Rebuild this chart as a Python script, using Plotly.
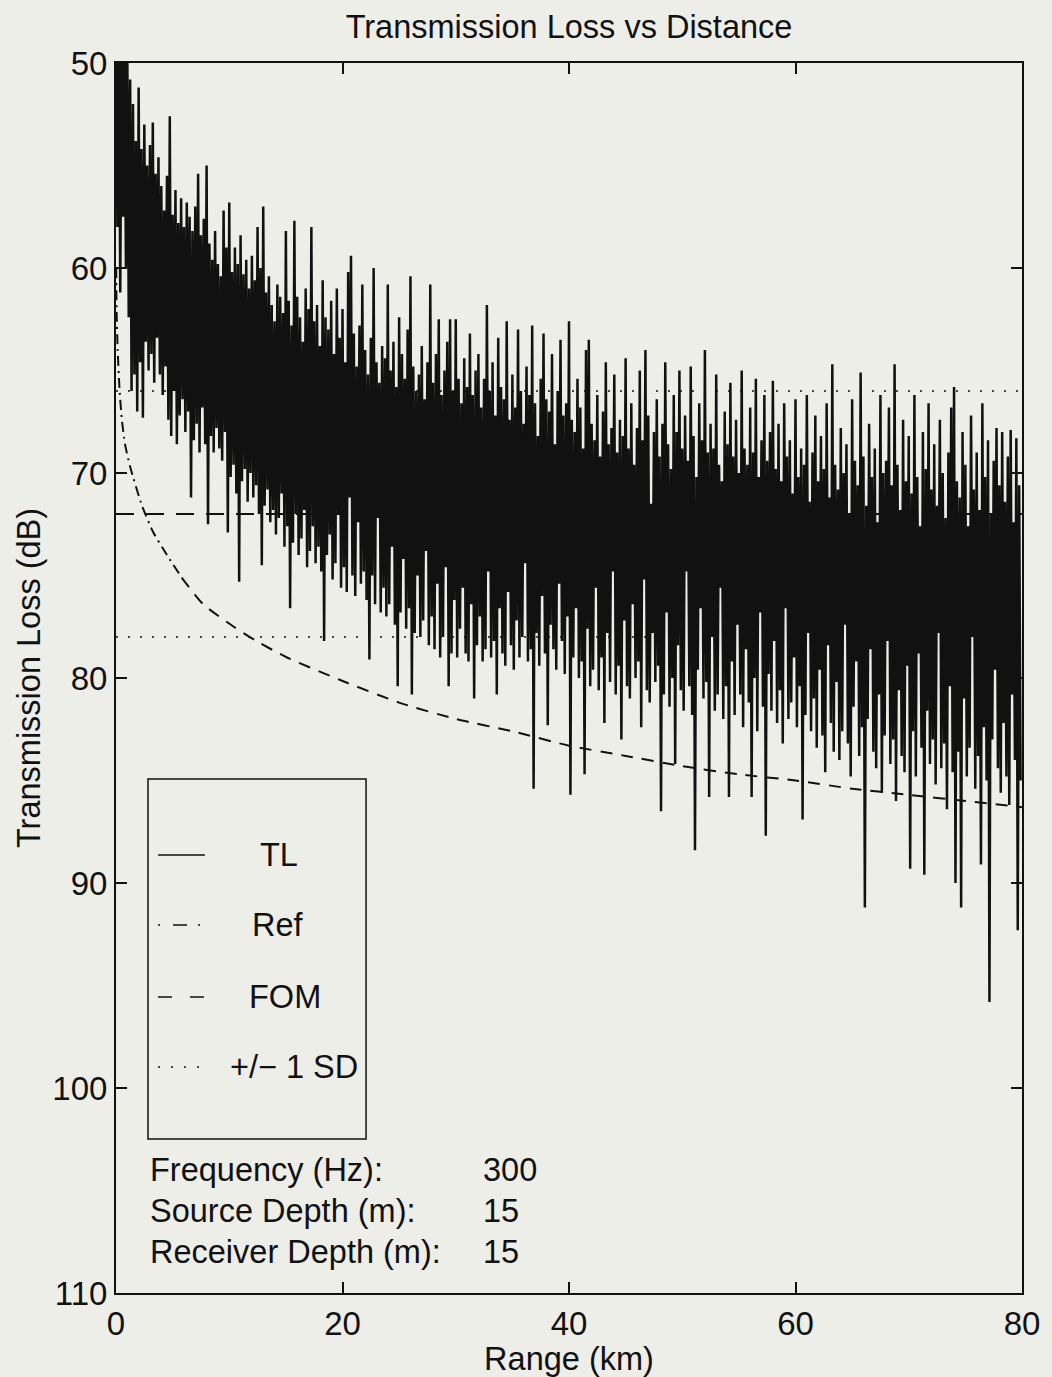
import plotly.graph_objects as go

FONT = "Liberation Sans, Arial, Helvetica, sans-serif"
INK = "#111111"
PAPER = "#eeeee9"

# ---- data ------------------------------------------------------------------
RANGE_STEP_KM = 0.25  # one crest + one trough per step

# upper edge of the TL trace (crests, dB), 4 per km, rows of 2 km
tl_crest_db = [
    48.0, 47.5, 48.5, 47.8, 49.5, 50.8, 52.0, 53.8,   # 0-2
    51.2, 54.2, 53.0, 55.0, 54.0, 52.9, 55.4, 54.6,   # 2-4
    56.0, 57.2, 55.5, 52.6, 57.4, 56.2, 57.8, 56.6,   # 4-6
    58.0, 56.8, 57.5, 58.2, 57.0, 55.4, 58.4, 57.6,   # 6-8
    55.0, 58.8, 59.6, 58.2, 59.8, 60.4, 57.2, 59.0,   # 8-10
    56.8, 60.2, 59.0, 59.8, 58.4, 60.3, 59.6, 61.0,   # 10-12
    59.4, 60.6, 58.0, 60.0, 57.0, 61.2, 60.4, 61.8,   # 12-14
    62.6, 60.8, 61.4, 62.2, 58.2, 61.6, 62.8, 57.7,   # 14-16
    61.4, 62.4, 63.6, 61.0, 62.0, 58.0, 62.6, 61.8,   # 16-18
    63.8, 60.6, 62.4, 63.0, 61.6, 64.2, 61.0, 63.4,   # 18-20
    62.0, 64.6, 60.2, 59.4, 63.2, 64.8, 62.8, 60.8,   # 20-22
    64.0, 65.2, 63.4, 60.0, 64.6, 65.6, 63.8, 64.4,   # 22-24
    60.8, 65.0, 63.6, 65.8, 62.4, 64.2, 65.4, 63.0,   # 24-26
    60.4, 64.8, 66.0, 65.2, 63.8, 66.4, 64.6, 60.8,   # 26-28
    65.6, 64.2, 62.5, 66.2, 65.0, 63.6, 62.5, 66.0,   # 28-30
    62.5, 65.4, 66.6, 64.4, 65.8, 63.2, 66.2, 65.0,   # 30-32
    64.2, 66.8, 65.4, 61.8, 66.0, 64.6, 67.2, 63.4,   # 32-34
    65.8, 66.4, 62.6, 67.4, 65.2, 66.8, 63.0, 66.0,   # 34-36
    67.6, 64.8, 66.2, 62.8, 66.6, 68.2, 65.4, 63.2,   # 36-38
    66.4, 67.0, 64.2, 68.6, 66.0, 63.5, 67.2, 66.6,   # 38-40
    62.6, 67.4, 68.0, 65.4, 66.8, 68.8, 64.0, 63.5,   # 40-42
    67.6, 68.4, 66.2, 69.2, 67.0, 64.6, 68.6, 67.8,   # 42-44
    65.2, 69.0, 67.4, 68.2, 64.4, 68.8, 66.6, 69.6,   # 44-46
    67.8, 65.0, 68.4, 64.0, 67.2, 71.5, 68.0, 66.4,   # 46-48
    69.2, 67.6, 64.6, 68.6, 69.8, 66.2, 68.0, 65.0,   # 48-50
    68.8, 67.2, 69.4, 64.8, 68.2, 70.2, 66.6, 68.4,   # 50-52
    64.0, 69.0, 67.6, 68.8, 65.2, 69.6, 70.4, 67.0,   # 52-54
    68.6, 65.6, 69.2, 67.4, 70.0, 65.0, 68.8, 69.6,   # 54-56
    66.8, 69.0, 65.4, 70.2, 68.4, 66.2, 69.4, 68.0,   # 56-58
    65.5, 69.8, 67.6, 70.4, 66.6, 69.2, 68.4, 71.0,   # 58-60
    66.4, 70.2, 68.8, 69.6, 66.2, 71.4, 69.0, 67.2,   # 60-62
    70.4, 68.2, 69.8, 66.6, 71.2, 64.7, 69.6, 70.8,   # 62-64
    67.8, 70.0, 68.6, 72.0, 66.4, 69.4, 70.6, 65.1,   # 64-66
    69.2, 71.6, 67.6, 70.2, 68.8, 72.4, 66.2, 70.0,   # 66-68
    69.4, 66.8, 70.6, 64.7, 69.6, 71.8, 67.4, 70.4,   # 68-70
    68.2, 71.0, 66.2, 70.2, 72.6, 68.0, 69.8, 66.6,   # 70-72
    70.8, 68.6, 71.6, 67.4, 70.0, 72.2, 69.0, 66.8,   # 72-74
    65.8, 70.4, 71.2, 68.0, 69.6, 72.6, 67.2, 70.8,   # 74-76
    69.0, 71.8, 66.6, 70.2, 68.4, 72.0, 69.4, 67.8,   # 76-78
    70.6, 68.0, 71.4, 69.2, 67.9, 72.4, 68.3, 70.6,   # 78-80
]

# lower edge of the TL trace (troughs, dB), half a step after each crest
tl_trough_db = [
    58.0, 61.2, 57.5, 60.0, 62.4, 66.0, 65.2, 67.0,   # 0-2
    64.6, 67.3, 63.6, 65.0, 64.2, 65.6, 63.4, 65.2,   # 2-4
    66.2, 64.8, 67.4, 68.2, 66.0, 68.6, 67.2, 66.4,   # 4-6
    68.0, 67.0, 71.2, 68.4, 67.6, 69.0, 66.8, 68.6,   # 6-8
    72.5, 68.2, 69.0, 67.8, 68.8, 69.4, 68.0, 72.9,   # 8-10
    70.2, 69.6, 71.0, 75.3, 70.4, 69.8, 71.4, 70.0,   # 10-12
    71.2, 70.6, 72.0, 74.5, 71.6, 70.8, 72.4, 71.8,   # 12-14
    73.0, 72.2, 71.0, 73.6, 72.6, 76.6, 73.4, 72.0,   # 14-16
    74.0, 73.2, 71.8, 74.6, 73.8, 72.6, 74.4, 73.6,   # 16-18
    74.8, 78.2, 74.0, 73.0, 75.2, 74.4, 72.0, 75.6,   # 18-20
    74.6, 75.8, 71.2, 75.0, 76.0, 72.4, 75.4, 74.8,   # 20-22
    76.2, 79.1, 75.0, 76.4, 72.2, 76.8, 75.6, 77.0,   # 22-24
    76.4, 73.6, 77.4, 80.4, 76.8, 74.2, 77.6, 76.6,   # 24-26
    80.8, 77.8, 75.0, 78.0, 77.2, 73.8, 78.4, 77.0,   # 26-28
    78.6, 75.4, 79.0, 78.0, 74.6, 80.4, 78.8, 76.2,   # 28-30
    79.0, 77.6, 75.6, 78.8, 79.2, 76.4, 81.0, 78.4,   # 30-32
    77.0, 79.2, 78.6, 74.8, 79.0, 78.2, 80.8, 76.6,   # 32-34
    78.8, 79.4, 75.8, 78.4, 79.6, 77.2, 79.0, 78.0,   # 34-36
    74.4, 79.2, 78.6, 85.4, 77.8, 79.4, 76.0, 78.8,   # 36-38
    82.3, 77.4, 78.6, 79.6, 75.4, 78.2, 79.8, 77.0,   # 38-40
    85.7, 79.0, 76.6, 80.0, 79.2, 84.7, 77.6, 80.4,   # 40-42
    79.6, 75.6, 80.6, 79.0, 82.2, 77.8, 80.2, 74.8,   # 42-44
    80.8, 79.4, 83.0, 77.2, 80.4, 81.0, 76.4, 80.0,   # 44-46
    79.2, 82.4, 75.2, 80.6, 81.2, 77.8, 80.2, 79.4,   # 46-48
    86.5, 80.8, 76.8, 81.4, 80.0, 84.2, 78.4, 80.6,   # 48-50
    81.6, 74.8, 80.4, 81.8, 88.4, 79.6, 76.6, 81.0,   # 50-52
    80.2, 85.8, 78.0, 81.6, 80.8, 75.6, 82.0, 80.4,   # 52-54
    85.8, 79.2, 81.8, 77.4, 80.8, 82.4, 78.6, 81.2,   # 54-56
    85.8, 80.0, 82.6, 76.8, 81.4, 87.7, 79.8, 81.6,   # 56-58
    78.2, 82.2, 80.6, 83.2, 76.6, 82.0, 81.2, 79.0,   # 58-60
    82.4, 80.4, 86.9, 81.8, 77.8, 82.6, 81.0, 83.4,   # 60-62
    79.6, 82.8, 84.6, 78.4, 82.2, 83.6, 80.2, 84.0,   # 62-64
    82.6, 77.4, 83.2, 84.8, 81.4, 79.2, 83.8, 82.4,   # 64-66
    91.2, 82.0, 78.6, 83.6, 84.4, 80.8, 85.6, 82.8,   # 66-68
    78.2, 84.2, 83.0, 86.0, 80.6, 83.8, 84.6, 79.4,   # 68-70
    89.3, 82.6, 84.8, 78.8, 83.4, 89.6, 81.6, 84.2,   # 70-72
    83.0, 85.2, 77.8, 84.4, 83.2, 86.4, 80.4, 84.6,   # 72-74
    90.0, 83.6, 91.2, 81.0, 84.8, 83.4, 78.0, 85.4,   # 74-76
    83.8, 89.1, 82.4, 85.0, 95.8, 83.0, 79.6, 84.4,   # 76-78
    85.6, 82.2, 84.8, 86.2, 80.8, 84.0, 92.3, 85.0,   # 78-80
]

# reference spreading curve
ref_range_km = [0.02, 0.05, 0.15, 0.3, 0.5, 0.8, 1.25, 2.3, 3.3, 4.5, 5.8,
                7.7, 10.4, 12.4, 15.1, 19.8, 25, 30, 35, 40, 45, 50, 55,
                60, 65, 70, 75, 80]
ref_db = [60.0, 62.0, 64.0, 65.8, 67.3, 68.6, 69.7, 71.6, 72.9, 74.0, 75.1,
          76.4, 77.5, 78.2, 79.0, 80.1, 81.2, 82.0, 82.6, 83.3, 83.8, 84.3,
          84.7, 85.0, 85.4, 85.7, 86.0, 86.3]
REF_SPLIT_KM = 5.8  # dash-dot looks like plain dashes past here

fom_db = 72.0
sd_db = 6.0
range_limits_km = [0, 80]

info_labels = ["Frequency (Hz):", "Source Depth (m):", "Receiver Depth (m):"]
info_values = ["300", "15", "15"]

legend_labels = ["TL", "Ref", "FOM", "+/\u2212 1 SD"]

# ---- build -----------------------------------------------------------------
tl_x, tl_y = [], []
for k, (crest, trough) in enumerate(zip(tl_crest_db, tl_trough_db)):
    tl_x += [k * RANGE_STEP_KM, (k + 0.5) * RANGE_STEP_KM]
    tl_y += [crest, trough]

split = next(i for i, r in enumerate(ref_range_km) if r >= REF_SPLIT_KM)

fig = go.Figure()

for lvl in (fom_db - sd_db, fom_db + sd_db):
    fig.add_trace(go.Scatter(
        x=range_limits_km, y=[lvl, lvl], mode="lines",
        line=dict(color=INK, width=1.6, dash="2px,10px"),
        showlegend=False, hoverinfo="skip",
    ))

fig.add_trace(go.Scatter(
    x=range_limits_km, y=[fom_db, fom_db], mode="lines",
    line=dict(color=INK, width=1.8, dash="18px,12px"),
    showlegend=False, name="FOM",
))

fig.add_trace(go.Scatter(
    x=ref_range_km[:split + 1], y=ref_db[:split + 1], mode="lines",
    line=dict(color=INK, width=2, dash="10px,5px,2px,5px", shape="spline", smoothing=0.6),
    showlegend=False, name="Ref",
))
fig.add_trace(go.Scatter(
    x=ref_range_km[split:], y=ref_db[split:], mode="lines",
    line=dict(color=INK, width=2, dash="12px,9px", shape="spline", smoothing=0.6),
    showlegend=False, name="Ref",
))

fig.add_trace(go.Scatter(
    x=tl_x, y=tl_y, mode="lines",
    line=dict(color=INK, width=2.5),
    showlegend=False, name="TL",
))

# ---- hand-drawn legend box (paper coords) ----------------------------------
TXT = 32.5
shapes = [dict(type="rect", xref="paper", yref="paper",
               x0=0.0353, x1=0.2760, y0=0.1252, y1=0.4179,
               line=dict(color=INK, width=1.5), fillcolor=PAPER, layer="above")]
legend_y = [0.3561, 0.2992, 0.2407, 0.1837]
legend_dash = ["solid", "2px,13px,14px,11px", "14px,18px", "2px,11px"]
legend_text_x = [0.1565, 0.1479, 0.1446, 0.1236]
annotations = []
for lab, yy, dsh, tx in zip(legend_labels, legend_y, legend_dash, legend_text_x):
    shapes.append(dict(type="line", xref="paper", yref="paper",
                       x0=0.0464, x1=0.0982, y0=yy, y1=yy,
                       line=dict(color=INK, width=1.6, dash=dsh), layer="above"))
    annotations.append(dict(text=lab, xref="paper", yref="paper", x=tx, y=yy,
                            xanchor="left", yanchor="middle", showarrow=False,
                            font=dict(size=TXT, color=INK, family=FONT)))

for lab, val, yy in zip(info_labels, info_values, [0.100, 0.0667, 0.0333]):
    annotations.append(dict(text=lab, xref="paper", yref="paper", x=0.0353, y=yy,
                            xanchor="left", yanchor="middle", showarrow=False,
                            font=dict(size=TXT, color=INK, family=FONT)))
    annotations.append(dict(text=val, xref="paper", yref="paper", x=0.4029, y=yy,
                            xanchor="left", yanchor="middle", showarrow=False,
                            font=dict(size=TXT, color=INK, family=FONT)))

axis_common = dict(
    showline=True, linecolor=INK, linewidth=2, mirror="ticks",
    ticks="inside", ticklen=11, tickwidth=1.5, tickcolor=INK,
    showgrid=False, zeroline=False,
    tickfont=dict(size=33, color=INK, family=FONT),
)

fig.update_layout(
    width=1052, height=1377,
    margin=dict(l=116, r=30, t=63, b=84),
    paper_bgcolor=PAPER, plot_bgcolor=PAPER,
    font=dict(family=FONT, color=INK, size=TXT),
    title=dict(text="Transmission Loss vs Distance", x=0.5, xref="paper",
               y=1 - 27 / 1377, yanchor="middle", font=dict(size=TXT, color=INK)),
    xaxis=dict(range=range_limits_km, tickvals=[0, 20, 40, 60, 80],
               title=dict(text="Range (km)", standoff=0, font=dict(size=TXT)),
               **axis_common),
    yaxis=dict(range=[110, 50], tickvals=[50, 60, 70, 80, 90, 100, 110],
               title=dict(text="Transmission Loss (dB)", standoff=2, font=dict(size=TXT)),
               **axis_common),
    shapes=shapes, annotations=annotations,
    showlegend=False,
)

# page has no body margin, so the figure sits at the window's top-left corner
fig.write_html(
    "out.html",
    config={"displayModeBar": False},
    post_script=f"document.body.style.margin='0';document.body.style.background='{PAPER}';",
)
